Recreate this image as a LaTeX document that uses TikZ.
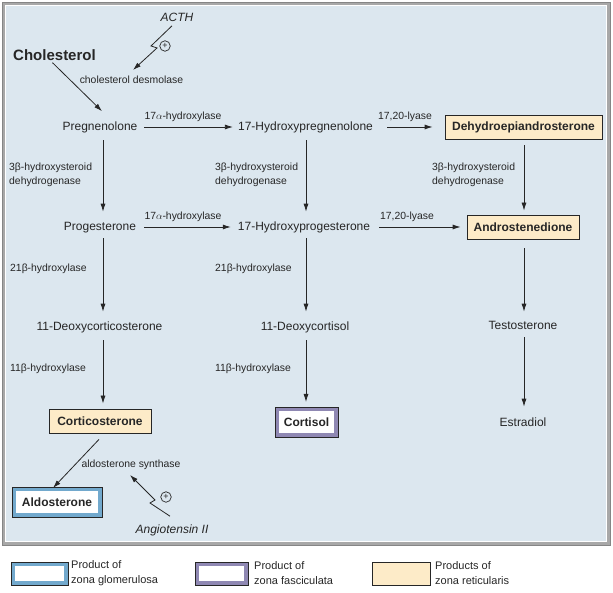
\documentclass[tikz,border=0pt]{standalone}
\usepackage{fontspec}
\setmainfont{Liberation Sans}
\usetikzlibrary{arrows.meta}
\definecolor{panelbg}{HTML}{DCE7EF}
\definecolor{beige}{HTML}{FDEBC8}
\definecolor{glom}{HTML}{72A9CD}
\definecolor{fasc}{HTML}{8F88B3}
\definecolor{ink}{HTML}{262626}
\definecolor{framegray}{HTML}{A8A8A8}
\begin{document}
\begin{tikzpicture}[x=1pt,y=-1pt,
  txt/.style={inner sep=0pt, text height=8.7pt, text depth=2.5pt, font=\fontsize{12}{14}\selectfont, text=ink},
  enz/.style={inner sep=0pt, font=\fontsize{10.4}{13.5}\selectfont, text=ink, align=left},
  arr/.style={draw=ink, line width=0.8pt, -{Latex[length=8pt,width=5pt]}},
  prod/.style={draw=ink, line width=0.8pt, fill=beige, font=\bfseries\fontsize{12}{14}\selectfont, inner xsep=5pt, inner ysep=0pt, minimum height=24pt, text=ink},
  band/.style={line width=4pt, fill=white, font=\bfseries\fontsize{12}{14}\selectfont, inner sep=0pt, outer sep=0pt, text=ink},
  rim/.style={draw=ink, line width=0.7pt},
  plus/.style={circle, draw=ink, line width=0.7pt, inner sep=0pt, minimum size=10.5pt, font=\fontsize{9}{9}\selectfont, text=ink},
  legtxt/.style={inner sep=0pt, anchor=west, align=left, font=\fontsize{11}{15}\selectfont, text=ink},
]
\useasboundingbox (0,0) rectangle (613,593);
\fill[panelbg] (4,4) rectangle (608,543);
\draw[draw=framegray, line width=3pt] (3.5,3.5) rectangle (608.5,543.5);
\draw[draw=white, line width=0.6pt] (5.5,5.5) rectangle (606.5,541.5);
\draw[draw=framegray!80!black, line width=0.5pt] (2,2) rectangle (610,545);

% columns
\coordinate (c1) at (103,0);
\coordinate (c2) at (306,0);
\coordinate (c3) at (524,0);

% top
\node[txt, font=\itshape\fontsize{12}{14}\selectfont] (acth) at (177,18) {ACTH};
\node[inner sep=0pt, font=\bfseries\fontsize{15}{17}\selectfont, text=ink] (chol) at (54.5,55) {Cholesterol};
\node[enz] (desm) at (131.5,80) {cholesterol desmolase};
\node[plus] (plus1) at (165,46) {+};
\coordinate (b1) at (151,46);
\coordinate (b2) at (157,48);
\coordinate (b3) at (133,70);

% row 1
\node[txt] (preg) at (100,127) {Pregnenolone};
\node[txt] (ohpreg) at (305.5,127) {17-Hydroxypregnenolone};
\node[prod, minimum width=157pt] (dhea) at (523.5,127) {Dehydroepiandrosterone};
\node[enz] (e1) at (183,117) {17\(\alpha\)-hydroxylase};
\node[enz] (e2) at (405,117) {17,20-lyase};

% row 2
\node[txt] (prog) at (100,227) {Progesterone};
\node[txt] (ohprog) at (304,227) {17-Hydroxyprogesterone};
\node[prod, minimum width=112pt] (andro) at (523,227) {Androstenedione};
\node[enz] (e3) at (183,217) {17\(\alpha\)-hydroxylase};
\node[enz] (e4) at (407,217) {17,20-lyase};

\node[enz, anchor=west] (v1) at (9,175) {3β-hydroxysteroid\\dehydrogenase};
\node[enz, anchor=west] (v2) at (215,175) {3β-hydroxysteroid\\dehydrogenase};
\node[enz, anchor=west] (v3) at (432,175) {3β-hydroxysteroid\\dehydrogenase};

% row 3
\node[txt] (doc) at (99.5,327) {11-Deoxycorticosterone};
\node[txt] (dcort) at (305,327) {11-Deoxycortisol};
\node[txt] (testo) at (523,326) {Testosterone};
\node[enz, anchor=west] (v4) at (10,269) {21β-hydroxylase};
\node[enz, anchor=west] (v5) at (215,269) {21β-hydroxylase};

% row 4
\node[enz, anchor=west] (v6) at (10,369) {11β-hydroxylase};
\node[enz, anchor=west] (v7) at (215,369) {11β-hydroxylase};
\node[prod, minimum width=102pt] (cortico) at (100,421) {Corticosterone};
\node[band, draw=fasc, minimum width=59pt, minimum height=26pt] (cortisol) at (306.5,422) {Cortisol};
\draw[rim] (275,407) rectangle (338,437);
\node[txt] (estra) at (523,423) {Estradiol};

% bottom
\node[enz] (synth) at (131,465) {aldosterone synthase};
\node[band, draw=glom, minimum width=86pt, minimum height=26pt] (aldo) at (57,502) {Aldosterone};
\draw[rim] (12,487) rectangle (102,517);
\node[txt, font=\itshape\fontsize{12}{14}\selectfont] (ang) at (172,530) {Angiotensin II};
\node[plus] (plus2) at (166,497) {+};
\coordinate (d1) at (150,503);
\coordinate (d2) at (155,500);
\coordinate (d3) at (130,475);

% connectors
\draw[arr] ([shift={(-5,2)}]acth.south) -- (b1) -- (b2) -- (b3);
\draw[arr] ([shift={(-2,2)}]chol.south) -- ([shift={(2,-10)}]preg.north);
\draw[arr, shorten <=6.6pt, shorten >=5pt] (preg.east) -- (ohpreg.west);
\draw[arr, shorten <=14pt, shorten >=12pt] (ohpreg.east) -- (dhea.west);
\draw[arr, shorten <=8pt, shorten >=7pt] (prog.east) -- (ohprog.west);
\draw[arr, shorten <=9pt, shorten >=6pt] (ohprog.east) -- (andro.west);

\draw[arr, shorten <=7.5pt, shorten >=9.5pt] (preg.south -| c1) -- (prog.north -| c1);
\draw[arr, shorten <=5.5pt, shorten >=9.5pt] (prog.south -| c1) -- (doc.north -| c1);
\draw[arr, shorten <=7.5pt, shorten >=5pt] (doc.south -| c1) -- (cortico.north -| c1);

\draw[arr, shorten <=7.5pt, shorten >=9.5pt] (ohpreg.south -| c2) -- (ohprog.north -| c2);
\draw[arr, shorten <=5.5pt, shorten >=9.5pt] (ohprog.south -| c2) -- (dcort.north -| c2);
\draw[arr, shorten <=7.5pt, shorten >=7pt] (dcort.south -| c2) -- (cortisol.north -| c2);

\draw[arr, shorten <=6pt, shorten >=4pt] (dhea.south -| c3) -- (andro.north -| c3);
\draw[arr, shorten <=9pt, shorten >=8.5pt] (andro.south -| c3) -- (testo.north -| c3);
\draw[arr, shorten <=5.5pt, shorten >=10.5pt] (testo.south -| c3) -- (estra.north -| c3);

\draw[arr] ([shift={(-1,6)}]cortico.south) -- ([shift={(-4,-1)}]aldo.north);
\draw[arr] ([shift={(-2,-8)}]ang.north) -- (d1) -- (d2) -- (d3);

% legend
\node[band, draw=glom, minimum width=53pt, minimum height=19pt] (leg1) at (39.5,573.5) {};
\draw[rim] (11,562) rectangle (68,585);
\node[legtxt] (lt1) at (71,573) {Product of\\zona glomerulosa};
\node[band, draw=fasc, minimum width=49pt, minimum height=19pt] (leg2) at (221.5,573.5) {};
\draw[rim] (195,562) rectangle (248,585);
\node[legtxt] (lt2) at (254,573) {Product of\\zona fasciculata};
\node[draw=ink, line width=0.8pt, fill=beige, minimum width=58pt, minimum height=23pt, inner sep=0pt] (leg3) at (401,573.5) {};
\node[legtxt] (lt3) at (435,573) {Products of\\zona reticularis};
\end{tikzpicture}
\end{document}
